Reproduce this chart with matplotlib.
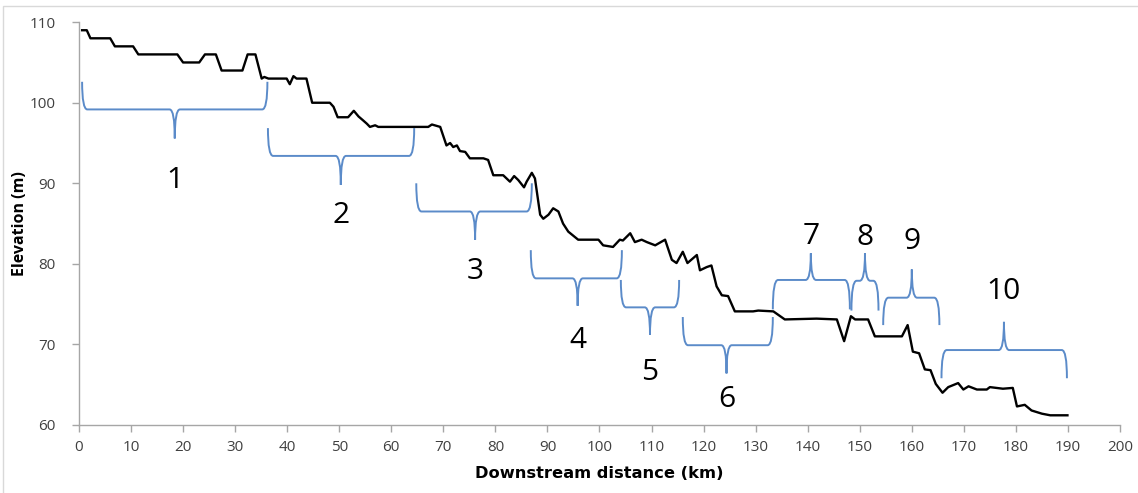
import matplotlib
matplotlib.use("Agg")
import matplotlib.pyplot as plt
from matplotlib.path import Path
from matplotlib.patches import PathPatch, Rectangle

# Longitudinal profile
dist_km = [0.6, 1.5, 2.2, 6.0, 6.9, 10.4, 11.4, 18.9, 20.0, 23.1, 24.2, 26.3, 27.4, 31.4,
           32.4, 33.9, 35.1, 35.6, 36.4, 39.9, 40.5, 41.2, 41.8, 43.7, 44.8, 48.2, 48.9,
           49.7, 51.7, 52.8, 53.7, 54.6, 55.3, 55.9, 56.9, 57.5, 67.1, 67.8, 69.4, 70.6,
           71.3, 71.9, 72.6, 73.2, 74.2, 75.1, 77.7, 78.6, 79.6, 81.5, 82.8, 83.6, 84.4,
           85.5, 86.0, 87.0, 87.6, 88.6, 89.2, 90.2, 91.1, 92.1, 93.0, 94.0, 95.9, 99.8,
           100.7, 102.6, 103.9, 104.5, 105.9, 106.8, 108.1, 109.1, 110.7, 112.6, 113.9,
           114.8, 116.0, 116.9, 117.8, 118.7, 119.3, 120.6, 121.5, 122.5, 123.5, 124.7,
           126.0, 129.5, 130.5, 133.4, 135.6, 141.7, 145.6, 147.0, 148.3, 149.1, 151.6,
           152.9, 158.1, 159.2, 160.2, 161.4, 162.5, 163.6, 164.6, 165.9, 167.0, 168.9,
           169.9, 170.9, 172.5, 174.4, 175.0, 177.5, 179.4, 180.2, 181.7, 183.0, 185.0,
           186.6, 189.9]
elev_m = [109.0, 109.0, 108, 108, 107, 107, 106, 106, 105, 105, 106, 106, 104, 104,
          106, 106, 103.0, 103.2, 103, 103, 102.3, 103.3, 103, 103, 100, 100, 99.5,
          98.2, 98.2, 99, 98.3, 97.8, 97.4, 97.0, 97.2, 97.0, 97.0, 97.3, 97, 94.7,
          95.0, 94.5, 94.7, 94.0, 93.9, 93.1, 93.1, 92.9, 91.0, 91.0, 90.2, 90.9, 90.4,
          89.5, 90.2, 91.3, 90.6, 86.1, 85.6, 86.1, 86.9, 86.5, 85.0, 84.0, 83.0, 83.0,
          82.3, 82.1, 83.0, 82.9, 83.8, 82.7, 83.0, 82.7, 82.3, 83.0, 80.5,
          80.1, 81.5, 80.1, 80.6, 81.1, 79.2, 79.6, 79.8, 77.2, 76.1, 76.0,
          74.1, 74.1, 74.2, 74.1, 73.1, 73.2, 73.1, 70.4, 73.5, 73.1, 73.1,
          71.0, 71.0, 72.4, 69.1, 68.9, 66.9, 66.8, 65.1, 64.0, 64.7, 65.2,
          64.4, 64.8, 64.4, 64.4, 64.7, 64.5, 64.6, 62.3, 62.5, 61.8, 61.4,
          61.2, 61.2]

# Reaches: start, end, tip position (km); bar and tip elevation; label
reach_labels = ["1", "2", "3", "4", "5", "6", "7", "8", "9", "10"]
reach_start = [0.6, 36.3, 64.8, 86.8, 104.1, 116.0, 133.3, 148.4, 154.5, 165.7]
reach_end = [36.2, 64.4, 87.0, 104.3, 115.3, 133.3, 148.1, 153.6, 165.3, 189.8]
reach_mid = [18.4, 50.3, 76.1, 95.8, 109.7, 124.4, 140.6, 151.0, 160.0, 177.7]
brace_end_y = [102.6, 96.85, 90.0, 81.7, 78.0, 73.4, 74.35, 74.2, 72.4, 65.8]
brace_bar_y = [99.17, 93.4, 86.5, 78.2, 74.6, 69.9, 78.0, 77.9, 75.8, 69.3]
brace_tip_y = [95.57, 89.8, 83.0, 74.8, 71.2, 66.4, 81.3, 81.3, 79.3, 72.8]
label_y = [90.4, 86.0, 79.0, 70.5, 66.5, 63.1, 83.4, 83.3, 82.8, 76.6]

blue = "#5B8BC9"

fig = plt.figure(figsize=(11.38, 4.93), dpi=100)
ax = fig.add_axes([0.0694, 0.138, 0.9148, 0.817])

ax.plot(dist_km, elev_m, color="black", lw=1.7, solid_joinstyle="round")

for i in range(len(reach_labels)):
    x0, x1, xm = reach_start[i], reach_end[i], reach_mid[i]
    ye, yb, yt = brace_end_y[i], brace_bar_y[i], brace_tip_y[i]
    d = 1.0
    verts = [(x0, ye), (x0, yb), (x0 + d, yb),
             (xm - d, yb),
             (xm, yb), (xm, yt),
             (xm, yb), (xm + d, yb),
             (x1 - d, yb),
             (x1, yb), (x1, ye)]
    codes = [Path.MOVETO, Path.CURVE3, Path.CURVE3,
             Path.LINETO,
             Path.CURVE3, Path.CURVE3,
             Path.CURVE3, Path.CURVE3,
             Path.LINETO,
             Path.CURVE3, Path.CURVE3]
    ax.add_patch(PathPatch(Path(verts, codes), fill=False, edgecolor=blue, lw=1.4))
    ax.text(xm, label_y[i], reach_labels[i], ha="center", va="center",
            fontsize=21.5, family=["Open Sans", "DejaVu Sans"], color="black")

ax.set_xlim(0, 200)
ax.set_ylim(60, 110)
ax.set_xticks(range(0, 201, 10))
ax.set_yticks(range(60, 111, 10))

for s in ["top", "right"]:
    ax.spines[s].set_visible(False)
for s in ["left", "bottom"]:
    ax.spines[s].set_color("#A6A6A6")
    ax.spines[s].set_linewidth(1.0)
ax.tick_params(axis="both", colors="#A6A6A6", length=5, width=1.0)
ax.tick_params(axis="x", labelcolor="#404040", labelsize=11, pad=6)
ax.tick_params(axis="y", labelcolor="#404040", labelsize=11, pad=12)
for t in ax.get_xticklabels():
    t.set_family(["Open Sans", "DejaVu Sans"])
for t in ax.get_yticklabels():
    t.set_family(["Open Sans", "DejaVu Sans"])

ax.set_xlabel("Downstream distance (km)", fontsize=11.7, fontweight="bold",
              family=["DejaVu Sans"], labelpad=8)
ax.set_ylabel("Elevation (m)", fontsize=11.5, fontweight="bold",
              family=["Open Sans", "DejaVu Sans"])
ax.yaxis.set_label_coords(-0.049, 0.5)

# light chart border
fig.patches.append(Rectangle((3 / 1138, -0.01), 1.01, 1 - 6 / 493 + 0.01,
                             transform=fig.transFigure, fill=False,
                             edgecolor="#D9D9D9", lw=1.0))

fig.savefig("out.png", dpi=100)
